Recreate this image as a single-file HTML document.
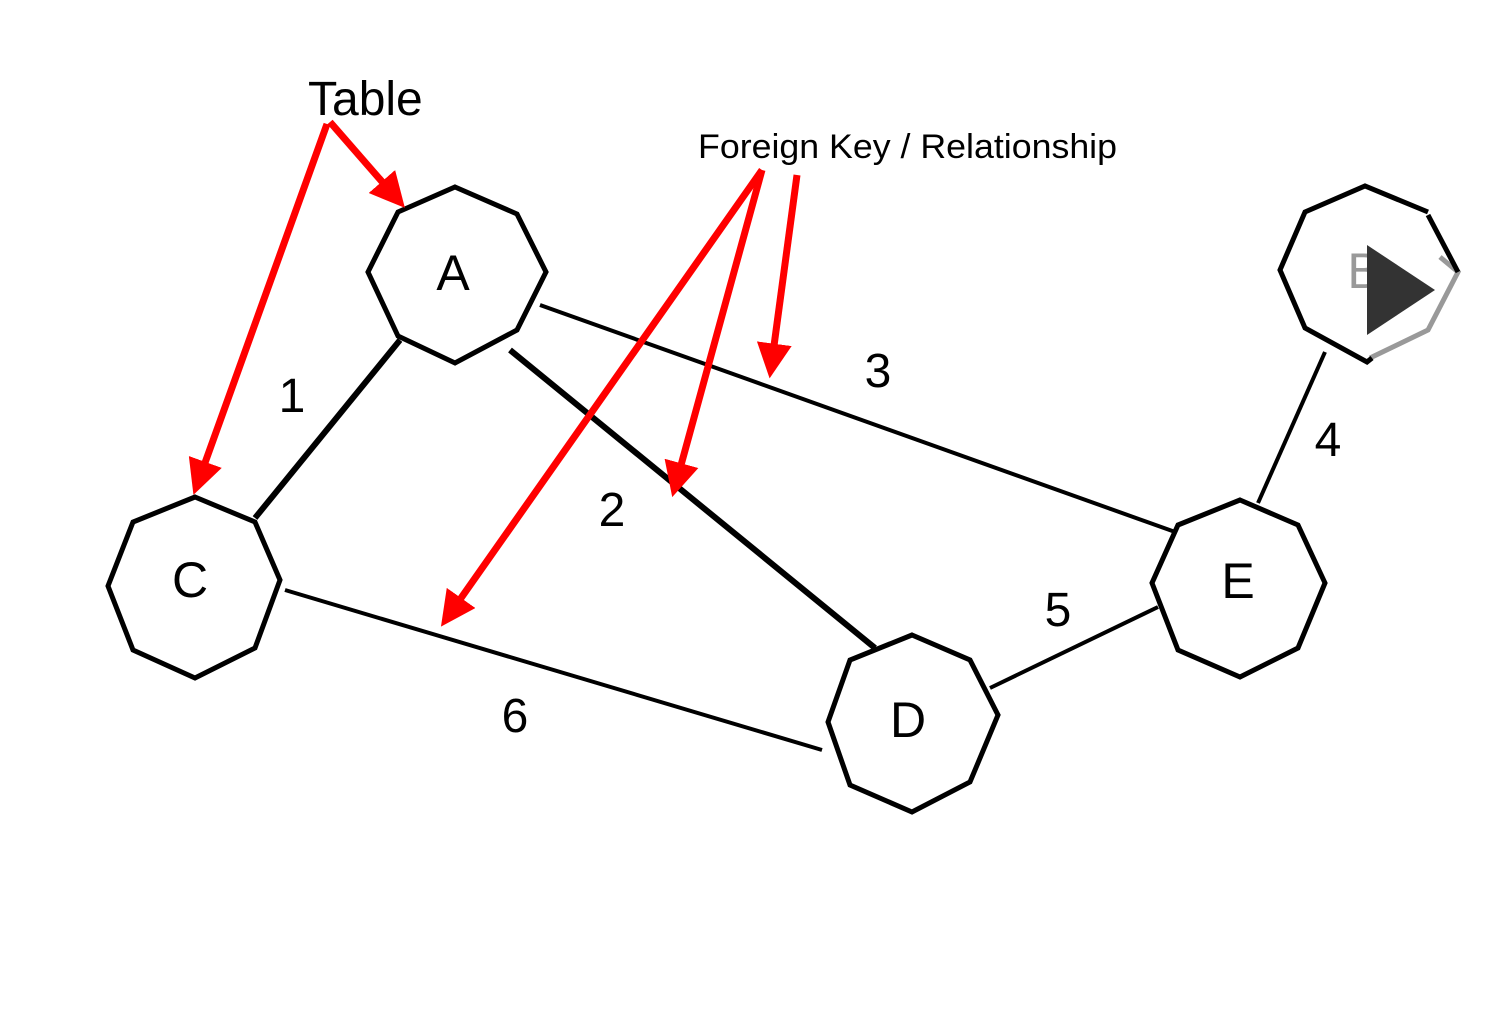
<!DOCTYPE html>
<html><head><style>body{margin:0;background:#fff}svg{display:block}</style></head><body>
<svg width="1507" height="1011" viewBox="0 0 1507 1011" xmlns="http://www.w3.org/2000/svg">
<defs><marker id="ah" markerWidth="5" markerHeight="5" refX="3.5" refY="2.5" orient="auto" markerUnits="strokeWidth"><path d="M0,0 L5,2.5 L0,5 z" fill="#f00"/></marker></defs>
<g stroke="#000" fill="none">
<line x1="255" y1="518" x2="400" y2="340" stroke-width="6"/>
<line x1="510" y1="350" x2="875" y2="648" stroke-width="6"/>
<line x1="540" y1="305" x2="1178" y2="533" stroke-width="4"/>
<line x1="1258" y1="503" x2="1325" y2="352" stroke-width="4"/>
<line x1="990" y1="688" x2="1158" y2="607" stroke-width="4"/>
<line x1="285" y1="590" x2="822" y2="750" stroke-width="4"/>
</g>
<g stroke="#000" stroke-width="5" fill="#fff">
<polygon points="455,187 517,214 546,272 517,330 455,363 398,336 368,272 398,212"/>
<polygon points="195,497 255,522 280,580 255,648 195,678 133,650 108,586 133,522"/>
<polygon points="1240,500 1298,525 1325,583 1298,648 1240,677 1178,650 1152,583 1178,525"/>
<polygon points="912,635 970,660 998,715 970,782 912,812 850,785 828,722 850,660"/>
</g>
<polyline points="1440,257 1458,272 1428,330 1370,358" stroke="#999" stroke-width="5" fill="none"/>
<polyline points="1428,212 1365,186 1305,212 1280,270 1305,328 1367,362 1372,358" stroke="#000" stroke-width="5" fill="none"/>
<line x1="1428" y1="215" x2="1458" y2="272" stroke="#000" stroke-width="5"/>
<g font-family="Liberation Sans, sans-serif" font-size="50" text-anchor="middle">
<text x="453" y="290">A</text>
<text x="190" y="597">C</text>
<text x="1238" y="598">E</text>
<text x="908" y="737">D</text>
<text x="1364" y="288" fill="#999">B</text>
</g>
<polygon points="1367,245 1435,290 1367,335" fill="#333"/>
<g font-family="Liberation Sans, sans-serif" font-size="48" text-anchor="middle">
<text x="292" y="412">1</text>
<text x="612" y="526">2</text>
<text x="878" y="387">3</text>
<text x="1328" y="456">4</text>
<text x="1058" y="626">5</text>
<text x="515" y="732">6</text>
</g>
<g stroke="#f00" stroke-width="7" fill="none" marker-end="url(#ah)">
<line x1="330" y1="122" x2="398" y2="200"/>
<line x1="327" y1="124" x2="197" y2="485"/>
<line x1="762" y1="170" x2="447" y2="618"/>
<line x1="762" y1="170" x2="675" y2="487"/>
<line x1="797" y1="175" x2="771" y2="368"/>
</g>
<text x="308" y="115" font-family="Liberation Sans, sans-serif" font-size="48">Table</text>
<text x="698" y="158" font-family="Liberation Sans, sans-serif" font-size="34" textLength="419" lengthAdjust="spacingAndGlyphs">Foreign Key / Relationship</text>
</svg>
</body></html>
